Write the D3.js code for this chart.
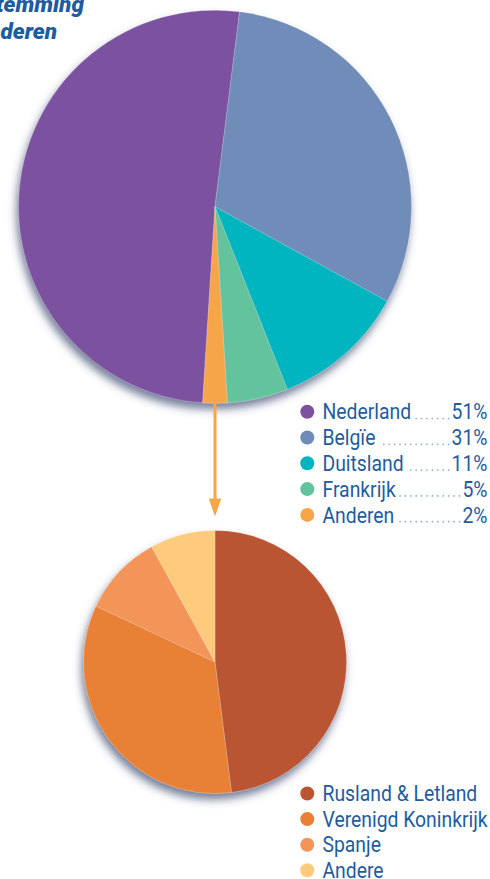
<!DOCTYPE html>
<html><head><meta charset="utf-8">
<script src="https://cdn.jsdelivr.net/npm/d3@7"></script>
<style>body{margin:0;background:#fff}svg{display:block}</style></head>
<body>
<script>
// ---- data ----
const titleLines = ["Exportbestemming", "Vlaanderen"];
const mainCategories = ["Nederland", "Belgïe", "Duitsland", "Frankrijk", "Anderen"];
const mainValues = [51, 31, 11, 5, 2];
const mainLabels = ["51%", "31%", "11%", "5%", "2%"];
const mainColors = ["#7b51a0", "#6f8cb8", "#00b5bf", "#63c39c", "#f6a54a"];
const subCategories = ["Rusland & Letland", "Verenigd Koninkrijk", "Spanje", "Andere"];
const subValues = [48, 34, 10, 8];
const subColors = ["#b95531", "#e88036", "#f39559", "#fecb7b"];

const W = 490, H = 879;
const textColor = "#1e5c9e";
const legendFont = "Roboto, 'Liberation Sans', Arial, sans-serif";
const squeeze = 0.9;

const svg = d3.select("body").append("svg").attr("width", W).attr("height", H);
const defs = svg.append("defs");
const f = defs.append("filter").attr("id", "shadow")
  .attr("x", "-20%").attr("y", "-20%").attr("width", "140%").attr("height", "140%");
f.append("feDropShadow").attr("dx", -2).attr("dy", 6).attr("stdDeviation", 4.5)
  .attr("flood-color", "#3d4a70").attr("flood-opacity", 0.7);

// ---- main pie ----
const main = {cx: 215, cy: 206.7, r: 196.5};
const mainSum = d3.sum(mainValues);
// last slice ("Anderen") centred at the bottom, where the arrow leaves
const a0 = Math.PI - 2 * Math.PI * (1 - mainValues[mainValues.length - 1] / 2 / mainSum);
const mainPie = d3.pie().sort(null).startAngle(a0).endAngle(a0 + 2 * Math.PI);
const mainArc = d3.arc().innerRadius(0).outerRadius(main.r);
const gMain = svg.append("g").attr("transform", `translate(${main.cx},${main.cy})`)
  .attr("filter", "url(#shadow)");
gMain.selectAll("path").data(mainPie(mainValues)).join("path")
  .attr("d", mainArc).attr("fill", (d, i) => mainColors[i])
  .attr("stroke", "rgba(255,255,255,0.35)").attr("stroke-width", 0.6);

// ---- sub pie ----
const sub = {cx: 215, cy: 662, r: 131.5};
const subPie = d3.pie().sort(null).startAngle(0).endAngle(2 * Math.PI);
const subArc = d3.arc().innerRadius(0).outerRadius(sub.r);
const gSub = svg.append("g").attr("transform", `translate(${sub.cx},${sub.cy})`)
  .attr("filter", "url(#shadow)");
gSub.selectAll("path").data(subPie(subValues)).join("path")
  .attr("d", subArc).attr("fill", (d, i) => subColors[i])
  .attr("stroke", "rgba(255,255,255,0.35)").attr("stroke-width", 0.6);

// ---- arrow ----
const arrowColor = mainColors[mainColors.length - 1];
const tipY = sub.cy - sub.r - 14, headH = 18, headW = 12.5;
svg.append("line").attr("x1", main.cx).attr("x2", main.cx)
  .attr("y1", main.cy + main.r).attr("y2", tipY - headH + 2)
  .attr("stroke", arrowColor).attr("stroke-width", 3);
svg.append("path")
  .attr("d", `M${main.cx - headW / 2},${tipY - headH} L${main.cx + headW / 2},${tipY - headH} L${main.cx},${tipY} Z`)
  .attr("fill", arrowColor);

// ---- title (partly cut off at the left edge) ----
const title = svg.append("g").attr("fill", textColor)
  .style("font-family", "Roboto, 'Open Sans', sans-serif").style("font-weight", 900)
  .style("font-style", "italic").style("font-size", "22.5px");
title.append("text").attr("x", 84).attr("y", 11.5).attr("text-anchor", "end").text(titleLines[0]);
title.append("text").attr("x", 57).attr("y", 39.3).attr("text-anchor", "end").text(titleLines[1]);

// ---- legends ----
function legend(cats, colors, labels, y0, step) {
  const g = svg.append("g").style("font-family", legendFont).style("font-size", "21.5px");
  cats.forEach((c, i) => {
    const y = y0 + i * step;
    g.append("circle").attr("cx", 307.3).attr("cy", y).attr("r", 7).attr("fill", colors[i]);
    const t = g.append("text").attr("transform", `translate(322.5,${y + 7.6}) scale(${squeeze},1)`)
      .attr("fill", textColor).text(c);
    if (labels) {
      const p = g.append("text").attr("transform", `translate(487.5,${y + 7.6}) scale(${squeeze},1)`)
        .attr("text-anchor", "end").attr("fill", textColor).text(labels[i]);
      const x1 = 322.5 + t.node().getComputedTextLength() * squeeze + 4;
      const x2 = 487.5 - p.node().getComputedTextLength() * squeeze - 3;
      const n = Math.floor((x2 - x1) / 5.4);
      const dots = d3.range(n + 1).map(k => x2 - k * 5.4);
      g.selectAll(null).data(dots).join("circle")
        .attr("cx", d => d).attr("cy", y + 6.8).attr("r", 0.85).attr("fill", "#8aaad0");
    }
  });
}
legend(mainCategories, mainColors, mainLabels, 411.7, 25.8);
legend(subCategories, subColors, null, 793.5, 25.6);
</script>
</body></html>
